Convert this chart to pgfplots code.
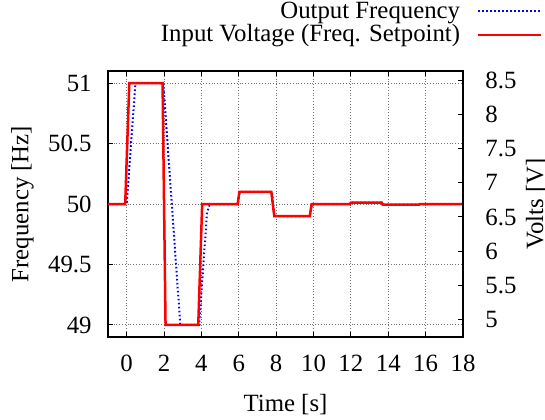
\documentclass[border=0pt]{standalone}
\usepackage{fontspec}
\setmainfont{Liberation Serif}
\usepackage{pgfplots}
\pgfplotsset{compat=1.18}
\usetikzlibrary{calc}
\newcommand\fsz{\fontsize{12.4}{14}\selectfont}

\begin{document}
\begin{tikzpicture}[font=\fsz]
\begin{axis}[
    name=main,
    scale only axis,
    width=177.5pt, height=133pt,
    xmin=-1, xmax=18,
    ymin=48.9, ymax=51.1,
    xtick={0,2,...,18},
    ytick={49,49.5,50,50.5,51},
    tick align=inside,
    major tick length=2.5pt,
    xtick pos=both, ytick pos=left,
    axis line style={line width=0.6pt},
    every tick/.style={black, line width=0.5pt},
    grid=major,
    grid style={densely dotted, black!55, line width=0.5pt},
    /pgf/number format/assume math mode=true,
    xticklabel style={font=\fsz, inner sep=0pt, anchor=north, yshift=-9pt},
    yticklabel style={font=\fsz, inner sep=0pt, anchor=east, xshift=-8pt},
    xlabel={Time [s]},
    ylabel={Frequency [Hz]},
    xlabel style={font=\fsz, at={(axis description cs:0.5,-0.281)}, anchor=base, inner sep=0pt},
    ylabel style={font=\fsz, at={(axis description cs:-0.2242,0.5)}, rotate=0, anchor=base, inner sep=0pt},
    legend cell align=right,
    legend plot pos=right,
    legend style={at={(1.2254,1.262)}, anchor=north east, draw=none, fill=none,
        inner sep=0pt, row sep=1.8pt, column sep=8.5pt, font=\fsz,
        nodes={inner sep=0pt}},
    legend image code/.code={\draw[#1] (0pt,0pt) -- (31.5pt,0pt);},
]
\addplot[color=blue, line width=1pt, dash pattern=on 0.8pt off 1.2pt] coordinates {
    (-1,50) (0,50) (0.47,51) (1.96,51) (2.87,49) (3.88,49) (4.3,49.93) (4.45,50)
    (5.95,50) (6.05,50.1) (7.78,50.1) (7.9,49.9) (9.8,49.9) (9.92,50)
    (11.95,50) (12.0,50.011) (13.65,50.011) (13.7,49.995) (15.65,49.995) (15.7,50) (18,50)
};
\addplot[color=red, line width=1.25pt] coordinates {
    (-1,50) (-0.08,50) (0.14,51) (1.92,51) (2.08,49) (3.83,49) (4.04,50)
    (5.94,50) (6.03,50.1) (7.74,50.1) (7.9,49.9) (9.8,49.9) (9.9,50)
    (11.95,50) (12.0,50.011) (13.65,50.011) (13.7,49.995) (15.65,49.995) (15.7,50) (18,50)
};
\legend{Output Frequency, Input Voltage (Freq. Setpoint)}
\end{axis}
\begin{axis}[
    scale only axis,
    width=177.5pt, height=133pt,
    xmin=-1, xmax=18,
    ymin=4.745, ymax=8.635,
    axis x line=none,
    axis y line*=right,
    axis line style={line width=0.6pt},
    ytick={5,5.5,...,8.5},
    tick align=inside,
    major tick length=2.5pt,
    every tick/.style={black, line width=0.5pt},
    /pgf/number format/assume math mode=true,
    yticklabel style={font=\fsz, inner sep=0pt, anchor=west, xshift=11pt},
    ylabel={Volts [V]},
    ylabel style={font=\fsz, at={(axis description cs:1.226,0.5)}, rotate=0, anchor=base, inner sep=0pt},
]
\addplot[draw=none] coordinates {(0,5) (1,8)};
\end{axis}
\pgfresetboundingbox
\path[use as bounding box] ($(main.south west)+(-54pt,-41pt)$) rectangle ($(main.north east)+(41pt,35.5pt)$);
\end{tikzpicture}
\end{document}
